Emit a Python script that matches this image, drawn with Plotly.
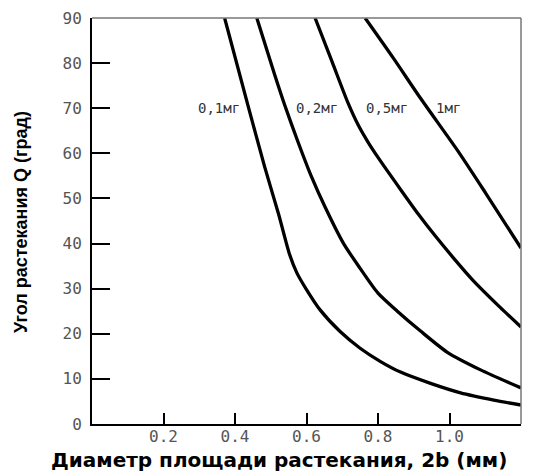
import plotly.graph_objects as go

# ---- data ----
x_01 = [0.371, 0.436, 0.483, 0.522, 0.553, 0.573, 0.600, 0.638, 0.694, 0.750, 0.806, 0.863, 0.947, 1.031, 1.124, 1.200]
y_01 = [90, 70.7, 57.0, 46.5, 37.5, 33.5, 29.8, 25.3, 20.5, 16.8, 13.9, 11.5, 9.0, 6.9, 5.3, 4.2]

x_02 = [0.461, 0.511, 0.539, 0.575, 0.613, 0.652, 0.703, 0.750, 0.800, 0.854, 0.919, 0.994, 1.087, 1.200]
y_02 = [90, 77.4, 70.7, 62.8, 55.0, 48.1, 40.1, 34.5, 29.0, 25.0, 20.6, 15.9, 12.0, 8.0]

x_05 = [0.624, 0.672, 0.717, 0.745, 0.772, 0.800, 0.863, 0.913, 0.961, 1.009, 1.065, 1.141, 1.200]
y_05 = [90, 80.2, 71.0, 66.2, 62.5, 59.1, 52.0, 46.5, 41.6, 37.0, 31.9, 25.9, 21.5]

x_1 = [0.764, 0.843, 0.919, 1.028, 1.101, 1.200]
y_1 = [90, 81.1, 72.2, 60.0, 51.2, 39.0]

series_labels = ["0,1мг", "0,2мг", "0,5мг", "1мг"]
label_x = [0.354, 0.629, 0.825, 0.996]
label_y = [70, 70, 70, 70]

x_tickvals = [0.2, 0.4, 0.6, 0.8, 1.0]
x_ticktext = ["0.2", "0.4", "0.6", "0.8", "1.0"]
y_tickvals = [0, 10, 20, 30, 40, 50, 60, 70, 80, 90]

x_title = "Диаметр площади растекания, 2b (мм)"
y_title = "Угол растекания Q (град)"

# ---- figure (page body has an 8px margin) ----
OFF = 8
W, H = 544 - OFF, 473 - OFF
L, T = 92 - OFF, 18 - OFF
R = W - L - 429
B = H - T - 406

fig = go.Figure()
for xs, ys in [(x_01, y_01), (x_02, y_02), (x_05, y_05), (x_1, y_1)]:
    fig.add_trace(go.Scatter(x=xs, y=ys, mode="lines",
                             line=dict(color="black", width=3.3, shape="spline", smoothing=0.7),
                             showlegend=False, hoverinfo="skip"))

for t, lx, ly in zip(series_labels, label_x, label_y):
    fig.add_annotation(x=lx, y=ly, text=t, showarrow=False, xanchor="center", yanchor="middle",
                       font=dict(family="DejaVu Sans Mono", size=14, color="#333"))

pw = W - L - R
ph = H - T - B
def px_to_paper(sx, sy):
    return (sx - OFF - L) / pw, (T + ph - (sy - OFF)) / ph

yx, yy = px_to_paper(21, 222)
fig.add_annotation(xref="paper", yref="paper", x=yx, y=yy,
                   text=y_title, textangle=-90, showarrow=False,
                   xanchor="center", yanchor="middle",
                   font=dict(family="Liberation Sans Narrow, Arial Narrow, sans-serif", size=18,
                             color="black", weight="bold"))
xx, xy = px_to_paper(279, 460)
fig.add_annotation(xref="paper", yref="paper", x=xx, y=xy,
                   text=x_title, showarrow=False, xanchor="center", yanchor="middle",
                   font=dict(family="DejaVu Sans", size=20, color="black", weight="bold"))

# top & right frame lines (grey)
fig.add_shape(type="line", xref="paper", yref="paper", x0=0, x1=1, y0=1, y1=1,
              line=dict(color="#777", width=1.5))
fig.add_shape(type="line", xref="paper", yref="paper", x0=1, x1=1, y0=0, y1=1,
              line=dict(color="#777", width=1.5))

fig.update_xaxes(range=[0, 1.2], tickvals=x_tickvals, ticktext=x_ticktext,
                 ticks="inside", ticklen=11, tickwidth=1.5, tickcolor="black",
                 showline=True, linecolor="black", linewidth=2, showgrid=False, zeroline=False,
                 tickfont=dict(family="DejaVu Sans Mono", size=16, color="#555"),
                 ticklabelstandoff=-3)
fig.update_yaxes(range=[0, 90], tickvals=y_tickvals,
                 ticks="inside", ticklen=18, tickwidth=1.5, tickcolor="black",
                 showline=True, linecolor="black", linewidth=2, showgrid=False, zeroline=False,
                 tickfont=dict(family="DejaVu Sans Mono", size=16, color="#555"),
                 ticklabelstandoff=5)

fig.update_layout(width=W, height=H, margin=dict(l=L, r=R, t=T, b=B, autoexpand=False),
                  plot_bgcolor="white", paper_bgcolor="white")

fig.write_html("out.html")
